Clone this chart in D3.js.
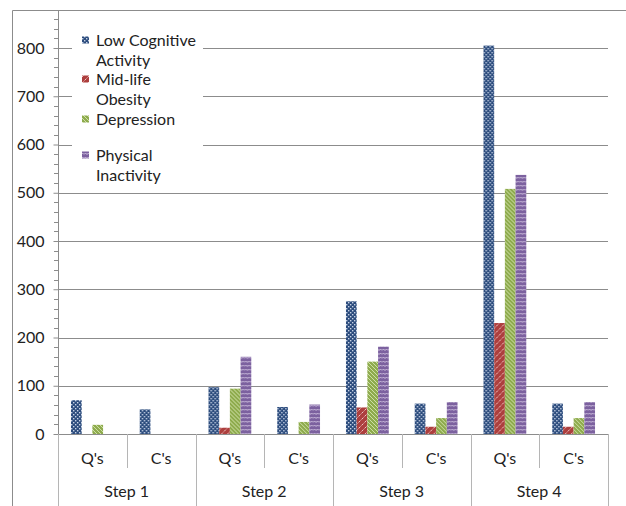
<!DOCTYPE html>
<html>
<head>
<meta charset="utf-8">
<script src="https://cdn.jsdelivr.net/npm/d3@7"></script>
<style>
  body { margin: 0; background: #fff; }
  svg { display: block; font-family: "Lato", "Liberation Sans", sans-serif; }
</style>
</head>
<body>
<div id="chart"></div>
<script>
// categories (two-level axis)
const steps = ["Step 1", "Step 2", "Step 3", "Step 4"];
const kinds = ["Q's", "C's"];
const series = ["Low Cognitive Activity", "Mid-life Obesity", "Depression", "Physical Inactivity"];

// values per category, order: Step1 Q, Step1 C, Step2 Q, ...
const lowCognitive = [70, 51, 97, 56, 275, 63, 805, 63];
const midlifeObesity = [0, 0, 13, 0, 55, 15, 230, 15];
const depression = [19, 0, 94, 25, 150, 33, 508, 33];
const physicalInactivity = [0, 0, 160, 61, 181, 66, 537, 66];

const yTicks = [0, 100, 200, 300, 400, 500, 600, 700, 800];

const width = 626, height = 506;
const plot = {left: 58, right: 608, top: 48, bottom: 434};
const fontSize = 16;

const svg = d3.select("#chart").append("svg")
  .attr("width", width)
  .attr("height", height);

// patterns for the bars
const defs = svg.append("defs");

const pBlue = defs.append("pattern").attr("id", "p0")
  .attr("width", 4).attr("height", 4).attr("patternUnits", "userSpaceOnUse");
pBlue.append("rect").attr("width", 4).attr("height", 4).attr("fill", "#2b4b7c");
pBlue.append("rect").attr("x", 0).attr("y", 0).attr("width", 1.4).attr("height", 1.4).attr("fill", "#c9d4e8");
pBlue.append("rect").attr("x", 2).attr("y", 2).attr("width", 1.4).attr("height", 1.4).attr("fill", "#c9d4e8");

const pRed = defs.append("pattern").attr("id", "p1")
  .attr("width", 6).attr("height", 6).attr("patternUnits", "userSpaceOnUse");
pRed.append("rect").attr("width", 6).attr("height", 6).attr("fill", "#ad3f3e");
pRed.append("path").attr("d", "M0.5,2.5 L2.5,0.5 M3.5,5.5 L5.5,3.5")
  .attr("stroke", "#f0c8c6").attr("stroke-width", 1);

const pGreen = defs.append("pattern").attr("id", "p2")
  .attr("width", 4).attr("height", 4).attr("patternUnits", "userSpaceOnUse");
pGreen.append("rect").attr("width", 4).attr("height", 4).attr("fill", "#8eab4d");
pGreen.append("path").attr("d", "M-1,-1 L5,5 M-1,3 L1,5 M3,-1 L5,1")
  .attr("stroke", "#cfe0a8").attr("stroke-width", 1);

const pPurple = defs.append("pattern").attr("id", "p3")
  .attr("width", 6).attr("height", 4).attr("patternUnits", "userSpaceOnUse");
pPurple.append("rect").attr("width", 6).attr("height", 4).attr("fill", "#7c619f");
pPurple.append("path").attr("d", "M0,2.5 L1.5,1 L3,2.5 L4.5,1 L6,2.5")
  .attr("stroke", "#dcd0ea").attr("stroke-width", 0.9).attr("fill", "none");

const fills = ["url(#p0)", "url(#p1)", "url(#p2)", "url(#p3)"];

// outer frame
svg.append("path")
  .attr("d", "M12.5,506 L12.5,10.5 L626,10.5")
  .attr("fill", "none").attr("stroke", "#8c8c8c");

// scales
const cats = [];
steps.forEach(s => kinds.forEach(k => cats.push(s + "|" + k)));

const x = d3.scaleBand().domain(cats).range([plot.left, plot.right]).padding(0);
const barW = 10.7;
const x1 = d3.scaleBand().domain(series).range([0, barW * 4]);
const y = d3.scaleLinear().domain([0, 800]).range([plot.bottom, plot.top]);

// gridlines
svg.append("g").selectAll("line")
  .data(yTicks.filter(d => d > 0))
  .join("line")
  .attr("x1", plot.left).attr("x2", plot.right)
  .attr("y1", d => Math.round(y(d)) + 0.5).attr("y2", d => Math.round(y(d)) + 0.5)
  .attr("stroke", "#8c8c8c");

// y axis
const yAxis = d3.axisLeft(y).tickValues(yTicks).tickSize(5).tickPadding(9);
const gy = svg.append("g").attr("transform", `translate(${plot.left + 0.5},0)`).call(yAxis);
gy.select(".domain").attr("stroke", "#8c8c8c").attr("d", `M0,${plot.top - 38}V${plot.bottom}`);
gy.selectAll(".tick line").attr("stroke", "#8c8c8c");
gy.selectAll(".tick text").attr("font-size", fontSize).attr("fill", "#222")
  .attr("font-family", "Lato, 'Liberation Sans', sans-serif");
// minor ticks
svg.append("g").selectAll("line")
  .data(d3.range(0, 820, 20).filter(d => d % 100 !== 0).concat([820, 840, 860]))
  .join("line")
  .attr("x1", plot.left - 4).attr("x2", plot.left)
  .attr("y1", d => Math.round(y(d)) + 0.5).attr("y2", d => Math.round(y(d)) + 0.5)
  .attr("stroke", "#8c8c8c");

// bars
const allValues = [lowCognitive, midlifeObesity, depression, physicalInactivity];
const groups = svg.append("g").selectAll("g")
  .data(cats)
  .join("g")
  .attr("transform", d => `translate(${x(d) + (x.bandwidth() - barW * 4) / 2},0)`);

groups.selectAll("rect")
  .data((d, i) => series.map((s, j) => ({s, j, v: allValues[j][i]})))
  .join("rect")
  .attr("x", d => x1(d.s))
  .attr("width", x1.bandwidth())
  .attr("y", d => y(d.v))
  .attr("height", d => y(0) - y(d.v))
  .attr("fill", d => fills[d.j]);

// baseline
svg.append("line")
  .attr("x1", plot.left).attr("x2", plot.right)
  .attr("y1", plot.bottom + 0.5).attr("y2", plot.bottom + 0.5)
  .attr("stroke", "#8c8c8c");

// two-level category axis
const catG = svg.append("g");
const stepW = x.bandwidth() * 2;
cats.forEach((c, i) => {
  const xl = Math.round(x(c)) + 0.5;
  const isStepEdge = i % 2 === 0;
  catG.append("line")
    .attr("x1", xl).attr("x2", xl)
    .attr("y1", plot.bottom).attr("y2", isStepEdge ? height : 468)
    .attr("stroke", "#b5b5b5");
});
catG.append("line")
  .attr("x1", plot.right + 0.5).attr("x2", plot.right + 0.5)
  .attr("y1", plot.bottom).attr("y2", height)
  .attr("stroke", "#b5b5b5");

catG.selectAll("text.kind")
  .data(cats)
  .join("text")
  .attr("class", "kind")
  .attr("x", d => x(d) + x.bandwidth() / 2)
  .attr("y", 464)
  .attr("text-anchor", "middle")
  .attr("font-size", fontSize)
  .attr("fill", "#222")
  .text(d => d.split("|")[1]);

catG.selectAll("text.step")
  .data(steps)
  .join("text")
  .attr("class", "step")
  .attr("x", (d, i) => plot.left + stepW * i + stepW / 2)
  .attr("y", 497)
  .attr("text-anchor", "middle")
  .attr("font-size", fontSize)
  .attr("fill", "#222")
  .text(d => d);

// legend
const legend = svg.append("g");
legend.append("rect")
  .attr("x", 72).attr("y", 28).attr("width", 131).attr("height", 159)
  .attr("fill", "#fff");

const legendLines = [
  ["Low Cognitive", "Activity"],
  ["Mid-life", "Obesity"],
  ["Depression"],
  ["Physical", "Inactivity"]
];
const legendY = [40, 79, 119, 155];

legendLines.forEach((lines, i) => {
  legend.append("rect")
    .attr("x", 82).attr("y", legendY[i] - 3.5)
    .attr("width", 7).attr("height", 7)
    .attr("fill", fills[i]);
  lines.forEach((t, k) => {
    legend.append("text")
      .attr("x", 96)
      .attr("y", legendY[i] + k * 20)
      .attr("dy", "0.35em")
      .attr("font-size", fontSize)
      .attr("fill", "#222")
      .text(t);
  });
});
</script>
</body>
</html>
